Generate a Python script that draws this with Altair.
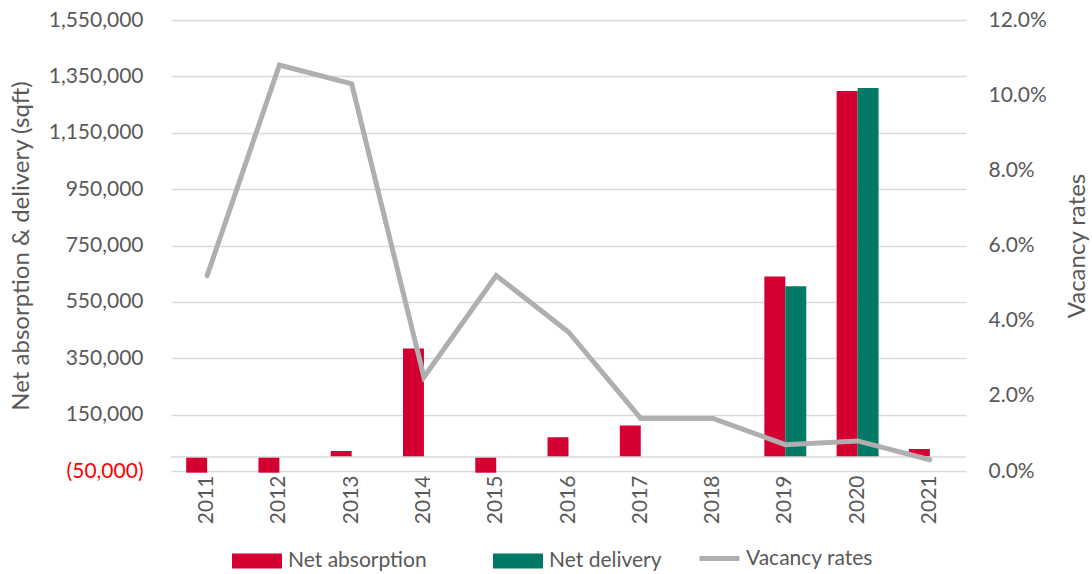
import altair as alt
import pandas as pd

years = ["2011", "2012", "2013", "2014", "2015", "2016", "2017", "2018", "2019", "2020", "2021"]
net_absorption = [-56000, -56000, 21000, 385000, -56000, 70000, 111000, 0, 640000, 1298000, 28000]
net_delivery = [0, 0, 0, 0, 0, 0, 0, 0, 605000, 1309000, 0]
vacancy_rates = [0.052, 0.108, 0.103, 0.025, 0.052, 0.037, 0.014, 0.014, 0.007, 0.008, 0.003]

left_ticks = [-50000, 150000, 350000, 550000, 750000, 950000, 1150000, 1350000, 1550000]
right_ticks = [0, 0.02, 0.04, 0.06, 0.08, 0.10, 0.12]
bar_series = ["Net absorption", "Net delivery"]
bar_colors = ["#D50032", "#007A66"]

bars_df = pd.DataFrame({
    "year": years * 2,
    "series": [bar_series[0]] * len(years) + [bar_series[1]] * len(years),
    "value": net_absorption + net_delivery,
})
line_df = pd.DataFrame({"year": years, "series": ["Vacancy rates"] * len(years), "rate": vacancy_rates})
zero_df = pd.DataFrame({"value": [0]})

FONT = "Lato"
GREY = "#595959"

x_enc = alt.X(
    "year:N",
    sort=years,
    scale=alt.Scale(paddingInner=0.42, paddingOuter=0.21),
    axis=alt.Axis(title=None, labelAngle=-90, labelFontSize=21, labelPadding=4,
                  ticks=False, domain=False, grid=False),
)

bars = alt.Chart(bars_df).mark_bar().encode(
    x=x_enc,
    xOffset=alt.XOffset("series:N", sort=bar_series,
                        scale=alt.Scale(domain=bar_series, paddingInner=0, paddingOuter=0)),
    y=alt.Y(
        "value:Q",
        scale=alt.Scale(domain=[-50000, 1550000], nice=False, zero=False),
        axis=alt.Axis(
            title="Net absorption & delivery (sqft)",
            values=left_ticks,
            labelExpr="datum.value < 0 ? '(' + format(-datum.value, ',') + ')' : format(datum.value, ',')",
            labelColor={"condition": {"test": "datum.value < 0", "value": "#FF0000"}, "value": GREY},
            labelFontSize=21, titleFontSize=24, labelPadding=28, titlePadding=15,
            grid=True, gridColor="#D9D9D9", gridWidth=1.5, ticks=False, domain=False,
        ),
    ),
    fill=alt.Fill(
        "series:N",
        scale=alt.Scale(domain=bar_series, range=bar_colors),
        legend=alt.Legend(
            title=None, orient="none", legendX=61, legendY=516, direction="horizontal",
            symbolType="M-1,-0.3H1V0.3H-1Z", symbolSize=2500, symbolStrokeWidth=0,
            labelFontSize=21, labelOffset=6, columnPadding=66,
        ),
    ),
)

zero_rule = alt.Chart(zero_df).mark_rule(color="#D9D9D9", strokeWidth=1.5).encode(
    y=alt.Y("value:Q")
)

line = alt.Chart(line_df).mark_line(strokeWidth=5, strokeCap="round").encode(
    x=alt.X("year:N", sort=years),
    y=alt.Y(
        "rate:Q",
        scale=alt.Scale(domain=[0, 0.12], nice=False),
        axis=alt.Axis(
            orient="right", title="Vacancy rates", values=right_ticks, format=".1%",
            labelFontSize=21, titleFontSize=24, labelPadding=22, titlePadding=43,
            titleAngle=270, titleBaseline="bottom",
            grid=False, ticks=False, domain=False,
        ),
    ),
    stroke=alt.Stroke(
        "series:N",
        scale=alt.Scale(domain=["Vacancy rates"], range=["#AFAFAF"]),
        legend=alt.Legend(
            title=None, orient="none", legendX=526, legendY=516,
            symbolType="stroke", symbolSize=1600, symbolStrokeWidth=5,
            labelFontSize=21, labelOffset=4,
        ),
    ),
)

chart = alt.layer(alt.layer(bars, zero_rule), line).resolve_scale(
    y="independent"
).properties(
    width=795, height=451,
    padding={"left": 171, "top": 20, "right": 126, "bottom": 103},
    autosize="none",
).configure_axis(
    labelFont=FONT, titleFont=FONT, labelColor=GREY, titleColor=GREY, titleFontWeight="normal",
).configure_legend(
    labelFont=FONT, labelColor=GREY,
).configure_view(stroke=None)

chart.save("out.html", embed_options={"renderer": "svg", "actions": False})
